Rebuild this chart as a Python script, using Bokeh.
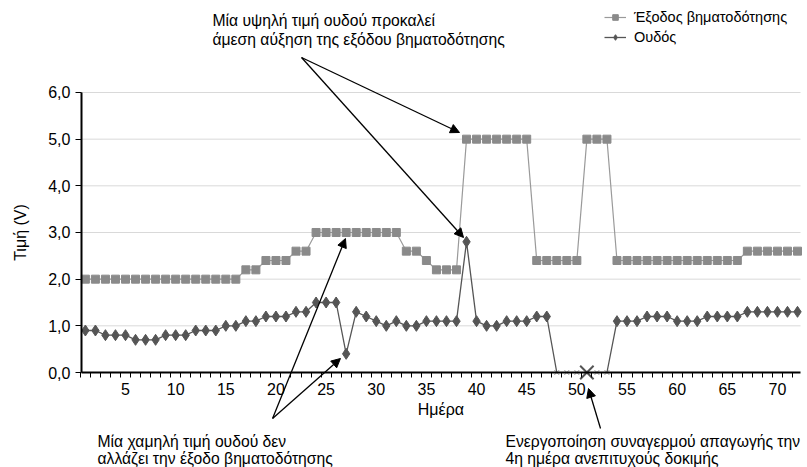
import math
from bokeh.plotting import figure
from bokeh.models import (Range1d, FixedTicker, Arrow, NormalHead, Label, Legend,
                          LegendItem, LinearAxis)
from bokeh.embed import file_html
from bokeh.resources import INLINE

FONT = "Liberation Sans"

# ---------------- data ----------------
days = list(range(1, 73))
output_v = [2.0, 2.0, 2.0, 2.0, 2.0, 2.0, 2.0, 2.0, 2.0, 2.0, 2.0, 2.0, 2.0, 2.0, 2.0, 2.0,
            2.2, 2.2, 2.4, 2.4, 2.4, 2.6, 2.6,
            3.0, 3.0, 3.0, 3.0, 3.0, 3.0, 3.0, 3.0, 3.0,
            2.6, 2.6, 2.4, 2.2, 2.2, 2.2,
            5.0, 5.0, 5.0, 5.0, 5.0, 5.0, 5.0,
            2.4, 2.4, 2.4, 2.4, 2.4,
            5.0, 5.0, 5.0,
            2.4, 2.4, 2.4, 2.4, 2.4, 2.4, 2.4, 2.4, 2.4, 2.4, 2.4, 2.4, 2.4,
            2.6, 2.6, 2.6, 2.6, 2.6, 2.6]
threshold_v = [0.9, 0.9, 0.8, 0.8, 0.8, 0.7, 0.7, 0.7, 0.8, 0.8, 0.8, 0.9, 0.9, 0.9, 1.0, 1.0,
               1.1, 1.1, 1.2, 1.2, 1.2, 1.3, 1.3, 1.5, 1.5, 1.5, 0.4, 1.3, 1.2, 1.1, 1.0, 1.1,
               1.0, 1.0, 1.1, 1.1, 1.1, 1.1, 2.8, 1.1, 1.0, 1.0, 1.1, 1.1, 1.1, 1.2, 1.2,
               0.0, 0.0, 0.0, 0.0, 0.0, 0.0,
               1.1, 1.1, 1.1, 1.2, 1.2, 1.2, 1.1, 1.1, 1.1, 1.2, 1.2, 1.2, 1.2,
               1.3, 1.3, 1.3, 1.3, 1.3, 1.3]
failed_days = [48, 49, 50, 51, 52, 53]
alarm_day = 51

x_ticks = [5, 10, 15, 20, 25, 30, 35, 40, 45, 50, 55, 60, 65, 70]
y_ticks = [0, 1, 2, 3, 4, 5, 6]
y_tick_labels = ["0,0", "1,0", "2,0", "3,0", "4,0", "5,0", "6,0"]

series_names = ["Έξοδος βηματοδότησης", "Ουδός"]
x_title = "Ημέρα"
y_title = "Τιμή (V)"

# axis extents (data units)
X_LO, X_HI = 0.6, 72.3
Y_LO, Y_HI = 0.0, 6.0

# ---------------- figure (frame fills the canvas, axes fixed inside) ----------------
p = figure(width=807, height=467, output_backend="svg", toolbar_location=None,
           x_range=Range1d(-7.463, 72.996), y_range=Range1d(-2.0357, 7.9714),
           x_axis_location=None, y_axis_location=None,
           min_border_left=0, min_border_right=0, min_border_top=0, min_border_bottom=0)
p.outline_line_color = None
p.background_fill_color = "white"
p.border_fill_color = "white"
p.grid.visible = False

# horizontal gridlines (within the axis extents)
p.segment(x0=[X_LO] * (len(y_ticks) - 1), x1=[X_HI] * (len(y_ticks) - 1),
          y0=y_ticks[1:], y1=y_ticks[1:], line_color="#d9d9d9", line_width=1)

# x axis
xa = LinearAxis(fixed_location=Y_LO, bounds=(X_LO, X_HI))
xa.ticker = FixedTicker(ticks=x_ticks, minor_ticks=[d + 0.5 for d in [0] + days[:-1]])
xa.axis_line_width = 2
xa.axis_line_color = "black"
xa.major_tick_out = 0
xa.major_tick_in = 0
xa.minor_tick_out = 5
xa.minor_tick_in = 0
xa.minor_tick_line_color = "black"
xa.minor_tick_line_width = 1
xa.major_label_text_font = FONT
xa.major_label_text_font_size = "16px"
xa.major_label_text_color = "black"
xa.major_label_standoff = 5
p.add_layout(xa, "below")

# y axis
ya = LinearAxis(fixed_location=X_LO, bounds=(Y_LO, Y_HI))
ya.ticker = FixedTicker(ticks=y_ticks)
ya.major_label_overrides = {t: s for t, s in zip(y_ticks, y_tick_labels)}
ya.axis_line_width = 2
ya.axis_line_color = "black"
ya.major_tick_out = 6
ya.major_tick_in = 0
ya.major_tick_line_color = "black"
ya.minor_tick_out = 0
ya.minor_tick_in = 0
ya.major_label_text_font = FONT
ya.major_label_text_font_size = "16px"
ya.major_label_text_color = "black"
ya.major_label_standoff = 5
ya.axis_label = y_title
ya.axis_label_text_font = FONT
ya.axis_label_text_font_size = "16px"
ya.axis_label_text_font_style = "normal"
ya.axis_label_text_color = "black"
ya.axis_label_standoff = 16
p.add_layout(ya, "left")

# x axis title (centred under the drawn axis)
p.add_layout(Label(x=(X_LO + X_HI) / 2, y=-0.80, text=x_title, text_font=FONT,
                   text_font_size="16px", text_color="black",
                   text_align="center", text_baseline="middle"))

# ---------------- series ----------------
OUT_LINE = "#9a9a9a"
OUT_MARK = "#8a8a8a"
THR = "#555555"

out_line = p.line(days, output_v, line_color=OUT_LINE, line_width=1.2)
out_pts = p.scatter(days, output_v, marker="square", size=8,
                    fill_color=OUT_MARK, line_color=OUT_MARK)

first_f, last_f = failed_days[0], failed_days[-1]
seg1_x = [d for d in days if d <= first_f]
seg1_y = [threshold_v[d - 1] for d in seg1_x]
seg2_x = [d for d in days if d >= last_f]
seg2_y = [threshold_v[d - 1] for d in seg2_x]
fail_y = [threshold_v[d - 1] for d in failed_days]
ok_x = [d for d in days if d not in failed_days]
ok_y = [threshold_v[d - 1] for d in ok_x]

thr_line = p.line(seg1_x, seg1_y, line_color=THR, line_width=1.3)
p.line(seg2_x, seg2_y, line_color=THR, line_width=1.3)
p.line(failed_days, fail_y, line_color="#aaaaaa", line_width=1, line_dash="1 2")
thr_pts = p.scatter(ok_x, ok_y, marker="diamond", size=11,
                    fill_color=THR, line_color=THR)
p.scatter(failed_days, fail_y, marker="x", size=7, line_color="#a0a0a0", line_width=1)
p.scatter([alarm_day], [threshold_v[alarm_day - 1]], marker="x", size=19,
          line_color="#555555", line_width=2)

# ---------------- legend ----------------
legend = Legend(items=[LegendItem(label=series_names[0], renderers=[out_line, out_pts]),
                       LegendItem(label=series_names[1], renderers=[thr_line, thr_pts])],
                location=(604, 420), orientation="vertical")
legend.border_line_color = None
legend.background_fill_alpha = 0
legend.label_text_font = FONT
legend.label_text_font_size = "14.5px"
legend.label_text_color = "black"
legend.glyph_width = 22
legend.glyph_height = 14
legend.label_height = 20
legend.label_standoff = 8
legend.spacing = 0
legend.padding = 0
legend.margin = 0
p.add_layout(legend, "center")

# ---------------- annotations ----------------
def lab(x, y, t):
    p.add_layout(Label(x=x, y=y, text=t, text_font=FONT, text_font_size="15.7px",
                       text_color="black", text_align="left", text_baseline="middle"))

lab(13.67, 7.543, "Μία υψηλή τιμή ουδού προκαλεί")
lab(13.67, 7.136, "άμεση αύξηση της εξόδου βηματοδότησης")
lab(2.21, -1.479, "Μία χαμηλή τιμή ουδού δεν")
lab(2.21, -1.843, "αλλάζει την έξοδο βηματοδότησης")
lab(42.89, -1.479, "Ενεργοποίηση συναγερμού απαγωγής την")
lab(42.89, -1.843, "4η ημέρα ανεπιτυχούς δοκιμής")

def arr(x0, y0, x1, y1):
    p.add_layout(Arrow(x_start=x0, y_start=y0, x_end=x1, y_end=y1, line_width=1.3,
                       line_color="black",
                       end=NormalHead(size=9, fill_color="black", line_color="black")))

arr(22.55, 6.75, 38.30, 5.143)
arr(22.55, 6.75, 38.70, 2.893)
arr(19.66, -0.986, 26.93, 2.871)
arr(19.66, -0.986, 26.43, 0.30)
arr(52.36, -1.20, 51.16, -0.343)

open("out.html", "w").write(file_html(p, INLINE))
